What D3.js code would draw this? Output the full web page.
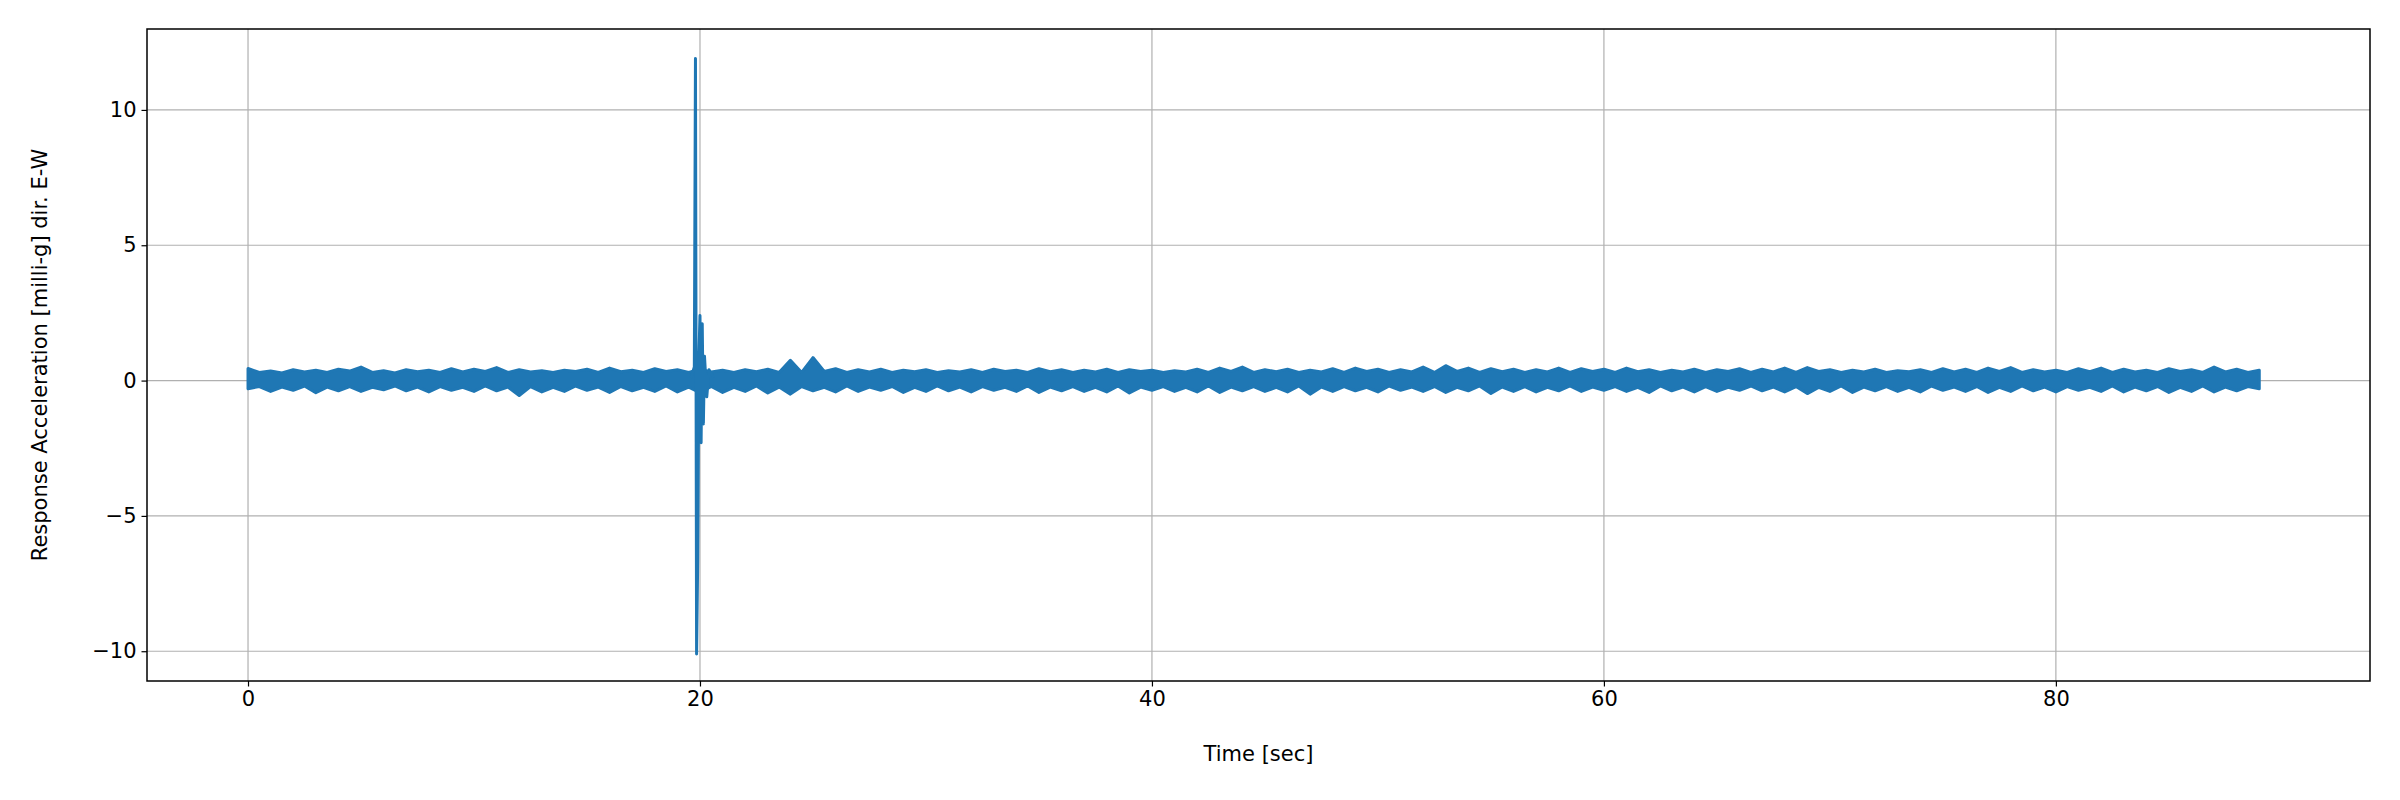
<!DOCTYPE html>
<html><head><meta charset="utf-8">
<script src="https://cdn.jsdelivr.net/npm/d3@7"></script>
<style>body{margin:0;background:#fff}text{font-family:"DejaVu Sans",sans-serif}</style>
</head><body>
<svg id="chart" width="2400" height="800"></svg>
<script>
// envelope of the noise band, sampled every half second from t=0 to t=89
const envTime = d3.range(0, 89.5, 0.5);
const envUpper = [0.45,0.3,0.35,0.28,0.4,0.32,0.38,0.3,0.42,0.35,0.5,0.3,0.36,0.28,0.4,0.33,0.38,0.3,0.44,0.32,
  0.42,0.34,0.48,0.3,0.4,0.32,0.36,0.3,0.38,0.34,0.42,0.3,0.46,0.33,0.38,0.3,0.44,0.34,0.4,0.3,
  0.42,0.32,0.38,0.3,0.4,0.33,0.42,0.3,0.75,0.3,0.85,0.34,0.44,0.3,0.4,0.32,0.42,0.3,0.38,0.33,
  0.4,0.3,0.36,0.32,0.4,0.3,0.42,0.34,0.38,0.3,0.44,0.33,0.4,0.3,0.38,0.32,0.42,0.3,0.4,0.34,
  0.38,0.3,0.36,0.32,0.42,0.3,0.46,0.34,0.5,0.3,0.4,0.33,0.42,0.3,0.38,0.32,0.44,0.3,0.46,0.34,
  0.42,0.3,0.4,0.32,0.5,0.3,0.55,0.34,0.46,0.3,0.44,0.33,0.42,0.3,0.4,0.32,0.46,0.3,0.44,0.34,
  0.42,0.3,0.46,0.33,0.4,0.3,0.38,0.32,0.42,0.3,0.4,0.34,0.44,0.3,0.42,0.32,0.46,0.3,0.48,0.34,
  0.4,0.3,0.38,0.32,0.42,0.3,0.36,0.33,0.4,0.3,0.44,0.32,0.42,0.3,0.46,0.34,0.48,0.3,0.4,0.32,
  0.38,0.3,0.44,0.33,0.46,0.3,0.42,0.32,0.38,0.3,0.44,0.34,0.4,0.3,0.5,0.32,0.42,0.3,0.38];
const envLower = [-0.3,-0.22,-0.4,-0.24,-0.36,-0.2,-0.45,-0.24,-0.38,-0.22,-0.4,-0.25,-0.34,-0.2,-0.38,-0.24,-0.42,-0.22,-0.36,-0.25,
  -0.4,-0.2,-0.38,-0.24,-0.55,-0.22,-0.42,-0.25,-0.4,-0.2,-0.36,-0.24,-0.44,-0.22,-0.38,-0.25,-0.4,-0.2,-0.42,-0.24,
  -0.45,-0.22,-0.44,-0.25,-0.4,-0.2,-0.46,-0.24,-0.5,-0.22,-0.38,-0.25,-0.42,-0.2,-0.4,-0.24,-0.36,-0.22,-0.44,-0.25,
  -0.4,-0.2,-0.38,-0.24,-0.42,-0.22,-0.36,-0.25,-0.4,-0.2,-0.44,-0.24,-0.38,-0.22,-0.4,-0.25,-0.42,-0.2,-0.46,-0.24,
  -0.36,-0.22,-0.4,-0.25,-0.42,-0.2,-0.44,-0.24,-0.38,-0.22,-0.4,-0.25,-0.42,-0.2,-0.5,-0.24,-0.4,-0.22,-0.38,-0.25,
  -0.42,-0.2,-0.36,-0.24,-0.4,-0.22,-0.44,-0.25,-0.38,-0.2,-0.48,-0.24,-0.4,-0.22,-0.42,-0.25,-0.38,-0.2,-0.4,-0.24,
  -0.36,-0.22,-0.4,-0.25,-0.44,-0.2,-0.38,-0.24,-0.42,-0.22,-0.4,-0.25,-0.36,-0.2,-0.38,-0.24,-0.42,-0.22,-0.48,-0.25,
  -0.4,-0.2,-0.44,-0.24,-0.38,-0.22,-0.4,-0.25,-0.42,-0.2,-0.36,-0.24,-0.4,-0.22,-0.44,-0.25,-0.4,-0.2,-0.38,-0.24,
  -0.42,-0.22,-0.36,-0.25,-0.4,-0.2,-0.42,-0.24,-0.38,-0.22,-0.44,-0.25,-0.4,-0.2,-0.42,-0.24,-0.38,-0.22,-0.3];
// the impulse near t=20 s
const spikeTime = [19.6,19.75,19.8,19.85,19.9,19.95,20.0,20.05,20.1,20.15,20.2,20.3,20.4,20.6];
const spikeValue = [0.1,0.5,11.9,-10.1,-6.6,0.8,2.4,-2.3,2.1,-1.6,0.9,-0.6,0.4,0.1];
const xTicks = [0,20,40,60,80];
const yTicks = [-10,-5,0,5,10];

const svg = d3.select("#chart");
const m = {left:147, right:30, top:29, bottom:119};
const W = 2400 - m.left - m.right, H = 800 - m.top - m.bottom;
const x = d3.scaleLinear().domain([-4.47, 93.9]).range([0, W]);
const y = d3.scaleLinear().domain([-11.1, 12.99]).range([H, 0]);
const g = svg.append("g").attr("transform", `translate(${m.left},${m.top})`);

g.append("g").selectAll("line").data(xTicks).join("line")
  .attr("x1", d => x(d)).attr("x2", d => x(d)).attr("y1", 0).attr("y2", H)
  .attr("stroke", "#b0b0b0").attr("stroke-width", 1.2);
g.append("g").selectAll("line").data(yTicks).join("line")
  .attr("y1", d => y(d)).attr("y2", d => y(d)).attr("x1", 0).attr("x2", W)
  .attr("stroke", "#b0b0b0").attr("stroke-width", 1.2);

const env = envTime.map((t, i) => ({t, hi: envUpper[i], lo: envLower[i]}));
g.append("path").datum(env)
  .attr("d", d3.area().x(d => x(d.t)).y0(d => y(d.lo)).y1(d => y(d.hi)))
  .attr("fill", "#1f77b4").attr("stroke", "#1f77b4").attr("stroke-width", 3).attr("stroke-linejoin", "round");
const spike = spikeTime.map((t, i) => ({t, v: spikeValue[i]}));
g.append("path").datum(spike)
  .attr("d", d3.line().x(d => x(d.t)).y(d => y(d.v)))
  .attr("fill", "none").attr("stroke", "#1f77b4").attr("stroke-width", 3).attr("stroke-linejoin", "round");

const xa = g.append("g").attr("transform", `translate(0,${H})`)
  .call(d3.axisBottom(x).tickValues(xTicks).tickSize(5.5).tickPadding(5));
const ya = g.append("g")
  .call(d3.axisLeft(y).tickValues(yTicks).tickSize(5.5).tickPadding(5).tickFormat(d => d < 0 ? "\u2212" + (-d) : d));
[xa, ya].forEach(a => { a.select(".domain").remove(); a.selectAll("text").attr("font-size", 21).attr("font-family", "DejaVu Sans"); a.selectAll("line").attr("stroke-width", 1.2); });
g.append("rect").attr("width", W).attr("height", H).attr("fill", "none").attr("stroke", "#000").attr("stroke-width", 1.5);

g.append("text").attr("x", W / 2).attr("y", H + 80).attr("text-anchor", "middle").attr("font-size", 21).text("Time [sec]");
g.append("text").attr("transform", `translate(${-100},${H / 2}) rotate(-90)`).attr("text-anchor", "middle").attr("font-size", 21)
  .text("Response Acceleration [milli-g] dir. E-W");
</script>
</body></html>
